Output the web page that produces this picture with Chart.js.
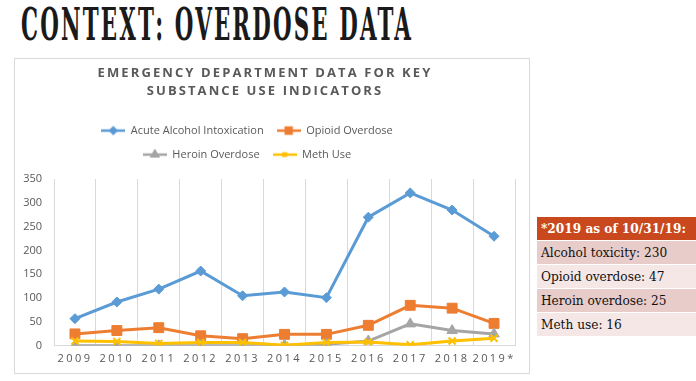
<!DOCTYPE html>
<html>
<head>
<meta charset="utf-8">
<script src="https://cdn.jsdelivr.net/npm/chart.js@4"></script>
<style>
  html, body { margin: 0; padding: 0; background: #fff; width: 696px; height: 381px; overflow: hidden; }
  #heading {
    position: absolute; left: 21px; top: 0px;
    font-family: "DejaVu Serif Condensed", "DejaVu Serif", serif; font-weight: bold;
    font-size: 44px; line-height: 50px; letter-spacing: 4px; color: #1a1a1a; white-space: nowrap;
    transform-origin: 0 0;
  }
  #box {
    position: absolute; left: 14px; top: 58px; width: 514px; height: 314px;
    border: 1px solid #d9d9d9;
  }
  #note {
    position: absolute; left: 537px; top: 217px; width: 159px;
    font-family: "DejaVu Serif Condensed", "DejaVu Serif", serif; font-size: 13.5px;
  }
  #note div { height: 23px; line-height: 23px; padding-left: 4px; border-bottom: 1px solid #fff; color: #111; white-space: nowrap; }
  #note .head { background: #c9481e; color: #fff; font-weight: bold; }
  #note .a { background: #e8ccca; }
  #note .b { background: #f4e7e6; }
</style>
</head>
<body>
<div id="heading">CONTEXT: OVERDOSE DATA</div>
<div id="box"><canvas id="chart" width="514" height="314"></canvas></div>
<div id="note">
  <div class="head">*2019 as of 10/31/19:</div>
  <div class="a">Alcohol toxicity: 230</div>
  <div class="b">Opioid overdose: 47</div>
  <div class="a">Heroin overdose: 25</div>
  <div class="b">Meth use: 16</div>
</div>
<script>
// data
const years = ['2009', '2010', '2011', '2012', '2013', '2014', '2015', '2016', '2017', '2018', '2019*'];
const alcohol = [57, 92, 119, 157, 105, 113, 101, 270, 321, 285, 230];
const opioid = [25, 32, 38, 21, 15, 24, 24, 43, 85, 79, 47];
const heroin = [0, 0, 0, 0, 0, 1, 3, 10, 46, 32, 25];
const meth = [10, 9, 5, 7, 7, 1, 7, 8, 2, 10, 16];
const yTicks = [0, 50, 100, 150, 200, 250, 300, 350];

// squeeze the heading to the width of the original
const h = document.getElementById('heading');
h.style.transform = 'scaleX(' + (392 / h.scrollWidth) + ')';

const grey = '#595959';

// legend swatch: short line with the marker in the middle
function swatch(color, style, r) {
  const c = document.createElement('canvas');
  c.width = 24; c.height = 12;
  const g = c.getContext('2d');
  g.strokeStyle = color; g.fillStyle = color; g.lineWidth = 2.5;
  g.beginPath(); g.moveTo(0, 6); g.lineTo(24, 6); g.stroke();
  Chart.helpers.drawPoint(g, { pointStyle: style, radius: r, rotation: 0, borderWidth: 1.5 }, 12, 6);
  return c;
}

const series = [
  { label: 'Acute Alcohol Intoxication', data: alcohol, color: '#5b9bd5', style: 'rectRot', r: 5 },
  { label: 'Opioid Overdose', data: opioid, color: '#ed7d31', style: 'rect', r: 7 },
  { label: 'Heroin Overdose', data: heroin, color: '#a5a5a5', style: 'triangle', r: 6 },
  { label: 'Meth Use', data: meth, color: '#ffc000', style: 'crossRot', r: 5 }
];

function spaced(obj, fn, sp) {
  if (!obj || obj['_sp' + fn]) return;
  const orig = obj[fn].bind(obj);
  obj[fn] = function (...a) {
    const ctx = this.ctx;
    ctx.save();
    ctx.letterSpacing = sp;
    orig(...a);
    ctx.restore();
  };
  obj['_sp' + fn] = true;
}

const letterSpacing = {
  id: 'letterSpacing',
  beforeDraw(chart) {
    spaced(chart.titleBlock, 'draw', '2.1px');
    spaced(chart.scales.x, 'drawLabels', '2.4px');
  }
};

// two legend items per row, a bit more room below the legend, nudged left
const legendRows = {
  id: 'legendRows',
  beforeLayout(chart) {
    const lg = chart.legend;
    if (!lg || lg._rows) return;
    const orig = lg.update.bind(lg);
    lg.update = function (w, hgt, m) {
      orig(Math.min(w, 330), hgt, m);
      this.height += 9;
    };
    lg._rows = true;
  },
  afterLayout(chart) {
    const lg = chart.legend;
    if (!lg) return;
    lg.left -= 18;
    lg.right -= 18;
  }
};

new Chart(document.getElementById('chart'), {
  type: 'line',
  data: {
    labels: years,
    datasets: series.map((s, i) => ({
      label: s.label,
      data: s.data,
      borderColor: s.color,
      backgroundColor: s.color,
      borderWidth: 3,
      pointStyle: s.style,
      pointRadius: s.r,
      pointBorderWidth: s.style === 'crossRot' ? 2 : 1,
      tension: 0,
      order: series.length - i // later series on top, like the original
    }))
  },
  options: {
    responsive: false,
    animation: false,
    layout: { padding: { left: 0, right: 14, top: 2, bottom: 2 } },
    plugins: {
      title: {
        display: true,
        text: ['EMERGENCY DEPARTMENT DATA FOR KEY', 'SUBSTANCE USE INDICATORS'],
        color: grey,
        font: { family: 'Open Sans', size: 13, weight: 'bold', lineHeight: 1.35 },
        padding: { top: 4, bottom: 12 }
      },
      legend: {
        labels: {
          color: grey,
          font: { family: 'Open Sans', size: 11 },
          usePointStyle: true,
          pointStyleWidth: 24,
          padding: 13,
          generateLabels: chart => series.map((s, i) => ({
            text: s.label,
            fontColor: grey,
            pointStyle: swatch(s.color, s.style, s.r * 0.6),
            datasetIndex: i,
            hidden: false,
            lineWidth: 0,
            strokeStyle: 'transparent',
            fillStyle: 'transparent'
          }))
        }
      },
      tooltip: { enabled: false }
    },
    scales: {
      x: {
        offset: true,
        grid: { offset: true, color: '#d9d9d9', drawTicks: false },
        border: { color: '#d9d9d9' },
        ticks: { color: grey, font: { family: 'Open Sans', size: 11 }, padding: 6 }
      },
      y: {
        min: 0,
        max: 350,
        afterBuildTicks: axis => { axis.ticks = yTicks.map(v => ({ value: v })); },
        afterFit: axis => { axis.width = 39; },
        grid: { display: false, drawTicks: false },
        border: { display: false },
        ticks: { color: grey, font: { family: 'Open Sans', size: 11 }, padding: 12 }
      }
    }
  },
  plugins: [letterSpacing, legendRows]
});
</script>
</body>
</html>
